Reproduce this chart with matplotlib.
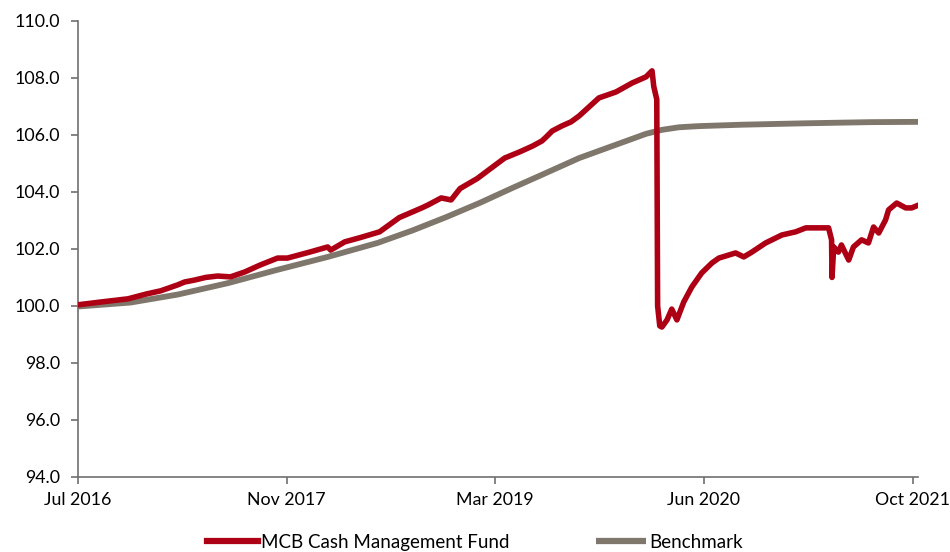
import matplotlib
matplotlib.use("Agg")
import matplotlib.pyplot as plt

# x = days since start of series (Jul 2016)
fund_days = [0, 60, 117, 160, 193, 233, 249, 273, 298, 326, 356, 389, 426, 466, 489, 541,
             583, 590, 623, 657, 704, 750, 781, 804, 818, 848, 871, 892, 932, 963, 996,
             1030, 1061, 1083, 1093, 1107, 1130, 1151, 1170, 1216, 1256, 1293, 1326, 1340,
             1344, 1351, 1353, 1358, 1363, 1375, 1386, 1398, 1414, 1433, 1456, 1480, 1496, 1535,
             1554, 1573, 1605, 1643, 1675, 1699, 1729, 1752, 1759, 1760, 1764, 1775, 1782, 1799,
             1810, 1829, 1845, 1857, 1869, 1885, 1892, 1911, 1932, 1946, 1962]
fund_vals = [100.04, 100.15, 100.25, 100.42, 100.53, 100.74, 100.84, 100.91, 101.0, 101.05, 101.02,
             101.19, 101.44, 101.68, 101.68, 101.89, 102.07, 101.96, 102.25, 102.39, 102.60,
             103.10, 103.30, 103.45, 103.55, 103.79, 103.72, 104.12, 104.47, 104.82, 105.19,
             105.40, 105.61, 105.79, 105.93, 106.14, 106.32, 106.46, 106.67, 107.30, 107.51,
             107.82, 108.04, 108.25, 107.7, 107.25, 100.0, 99.3, 99.26,
             99.51, 99.89, 99.51, 100.14, 100.67, 101.16, 101.51, 101.68, 101.86, 101.72, 101.89,
             102.21, 102.49, 102.60, 102.74, 102.74, 102.74, 102.32, 101.0, 102.07, 101.89,
             102.14, 101.61, 102.07, 102.32, 102.21, 102.77, 102.56, 103.02, 103.37, 103.61,
             103.44, 103.44, 103.54]

bench_days = [0, 123, 233, 350, 466, 583, 699, 781, 860, 937, 1014, 1093, 1170, 1247, 1326,
              1363, 1403, 1449, 1550, 1700, 1850, 1962]
bench_vals = [99.98, 100.12, 100.40, 100.80, 101.27, 101.72, 102.21, 102.65, 103.12, 103.61,
              104.14, 104.67, 105.19, 105.61, 106.04, 106.18, 106.27, 106.31, 106.36, 106.41,
              106.45, 106.46]

tick_days = [0, 487, 974, 1461, 1948]
tick_labels = ["Jul 2016", "Nov 2017", "Mar 2019", "Jun 2020", "Oct 2021"]
y_ticks = [94.0, 96.0, 98.0, 100.0, 102.0, 104.0, 106.0, 108.0, 110.0]

plt.rcParams['font.family'] = ['Lato', 'DejaVu Sans']

fig = plt.figure(figsize=(9.5, 5.52), dpi=100)
ax = fig.add_axes([0.082, 0.136, 0.884, 0.826])

red = '#AE0014'
grey = '#7F776B'
ax.plot(fund_days, fund_vals, color=red, lw=4.0, solid_joinstyle='round',
        label='MCB Cash Management Fund', zorder=3)
ax.plot(bench_days, bench_vals, color=grey, lw=4.2, solid_joinstyle='round',
        solid_capstyle='butt', label='Benchmark', zorder=2)

ax.set_xlim(0, 1960)
ax.set_ylim(94, 110)
ax.set_yticks(y_ticks)
ax.set_yticklabels([f"{v:.1f}" for v in y_ticks])
ax.set_xticks(tick_days)
ax.set_xticklabels(tick_labels)

for s in ['top', 'right']:
    ax.spines[s].set_visible(False)
for s in ['left', 'bottom']:
    ax.spines[s].set_color('#707070')
    ax.spines[s].set_linewidth(1.2)
ax.tick_params(axis='both', colors='#707070', labelcolor='black', labelsize=12.8,
               length=5, width=1.2, direction='out')
ax.tick_params(axis='y', pad=8)
ax.tick_params(axis='x', pad=6)

leg = fig.legend(loc='lower center', bbox_to_anchor=(0.5, -0.028), ncol=2, frameon=False,
                 fontsize=13.5, handlelength=2.7, handletextpad=0.15, columnspacing=4.6)
for l in leg.get_lines():
    l.set_linewidth(4.5)

fig.savefig('out.png', dpi=100)
